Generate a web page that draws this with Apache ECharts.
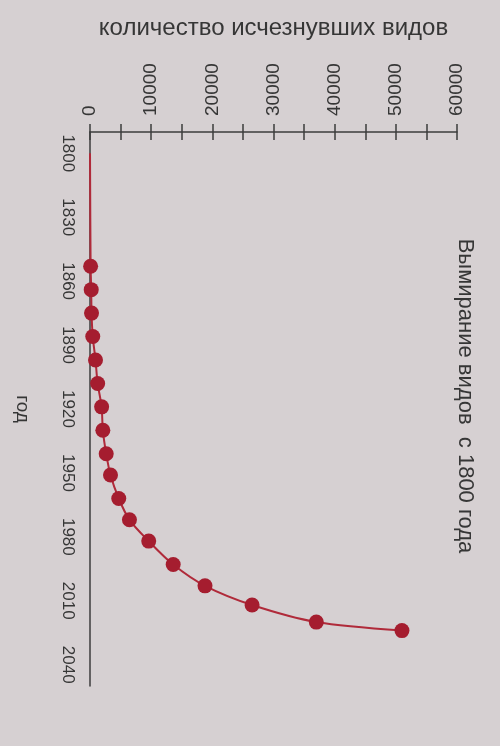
<!DOCTYPE html>
<html>
<head>
<meta charset="utf-8">
<script src="https://cdn.jsdelivr.net/npm/echarts@6/dist/echarts.min.js"></script>
<style>
  html, body { margin: 0; padding: 0; background: #d6d0d2; }
  #chart { width: 500px; height: 746px; }
</style>
</head>
<body>
<div id="chart"></div>
<script>
// Data
const titleText = 'Вымирание видов  с 1800 года';
const valueAxisName = 'количество исчезнувших видов';
const yearAxisName = 'год';
const years = [1800, 1853, 1864, 1875, 1886, 1897, 1908, 1919, 1930, 1941, 1951, 1962, 1972, 1982, 1993, 2003, 2012, 2020, 2024];
const extinct = [0, 100, 200, 250, 450, 900, 1250, 1900, 2100, 2650, 3350, 4700, 6450, 9600, 13600, 18800, 26500, 37000, 51000];
const yearTicks = [1800, 1830, 1860, 1890, 1920, 1950, 1980, 2010, 2040];
const valueTicks = [0, 10000, 20000, 30000, 40000, 50000, 60000];

const FONT = '"Liberation Sans", Arial, sans-serif';
const AXIS = '#3d3d3d';
const TEXT = '#363636';

const seriesData = years.map((y, i) => {
  const item = { value: [extinct[i], y] };
  if (i === 0) item.symbol = 'none';
  return item;
});

const chart = echarts.init(document.getElementById('chart'));
chart.setOption({
  backgroundColor: '#d6d0d2',
  animation: false,
  textStyle: { fontFamily: FONT },
  grid: { left: 90, right: 43, top: 132, bottom: 60, containLabel: false },
  graphic: [{
    type: 'text',
    x: 465, y: 396,
    rotation: -Math.PI / 2,
    style: {
      text: titleText,
      font: '22px ' + FONT,
      fill: TEXT,
      textAlign: 'center', textVerticalAlign: 'middle',
      align: 'center', verticalAlign: 'middle'
    }
  }],
  xAxis: [{
    type: 'value', position: 'top',
    min: 0, max: 60000, interval: 5000,
    name: valueAxisName, nameLocation: 'middle', nameGap: 92,
    nameTextStyle: { fontSize: 24, color: TEXT, fontFamily: FONT },
    axisLine: { show: true, lineStyle: { color: AXIS, width: 1.5 } },
    axisTick: { show: true, length: 8, lineStyle: { color: AXIS, width: 1.5 } },
    axisLabel: {
      rotate: -90, margin: 16, fontSize: 19, color: TEXT, fontFamily: FONT,
      formatter: v => valueTicks.includes(v) ? String(v) : ''
    },
    splitLine: { show: false }
  }, {
    type: 'value', position: 'top',
    min: 0, max: 60000, interval: 5000,
    axisLine: { show: false },
    axisTick: { show: true, inside: true, length: 8, lineStyle: { color: AXIS, width: 1.5 } },
    axisLabel: { show: false },
    splitLine: { show: false }
  }],
  yAxis: {
    type: 'value', inverse: true,
    min: 1790, max: 2050, interval: 10,
    name: yearAxisName, nameLocation: 'middle', nameRotate: -90, nameGap: 58,
    nameTextStyle: { fontSize: 19, color: TEXT, fontFamily: FONT },
    axisLine: { show: true, lineStyle: { color: AXIS, width: 1.5 } },
    axisTick: { show: false },
    axisLabel: {
      rotate: -90, margin: 14, fontSize: 17, color: TEXT, fontFamily: FONT,
      formatter: v => yearTicks.includes(v) ? String(v) : ''
    },
    splitLine: { show: false }
  },
  series: [{
    type: 'line',
    xAxisIndex: 0,
    data: seriesData,
    smooth: 0.3,
    symbol: 'circle',
    symbolSize: 15,
    itemStyle: { color: '#a51d2f' },
    lineStyle: { color: '#b02a3a', width: 2 }
  }]
});
</script>
</body>
</html>
